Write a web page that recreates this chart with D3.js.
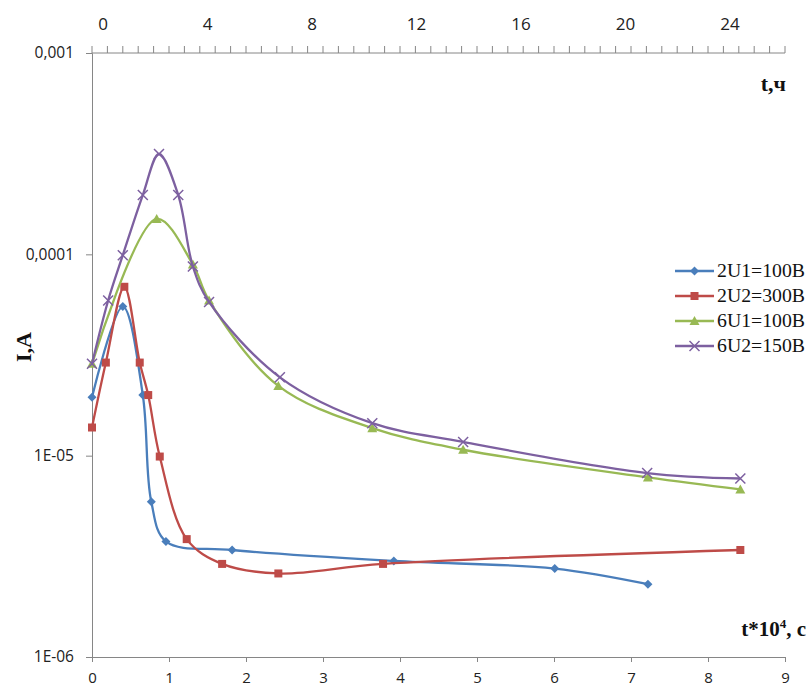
<!DOCTYPE html>
<html><head><meta charset="utf-8">
<script src="https://cdn.jsdelivr.net/npm/d3@7"></script>
<style>body{margin:0;background:#fff}</style>
</head><body>
<svg id="c" width="809" height="688"></svg>
<script>
// ---- data ----
const seriesNames = ["2U1=100B", "2U2=300B", "6U1=100B", "6U2=150B"];
const t_2U1 = [0, 0.4, 0.66, 0.77, 0.96, 1.82, 3.92, 6.01, 7.22];
const I_2U1 = [1.95e-5, 5.5e-5, 2.0e-5, 5.9e-6, 3.75e-6, 3.4e-6, 3.0e-6, 2.75e-6, 2.3e-6];
const t_2U2 = [0, 0.18, 0.42, 0.62, 0.73, 0.88, 1.23, 1.69, 2.42, 3.78, 8.42];
const I_2U2 = [1.38e-5, 2.9e-5, 6.9e-5, 2.9e-5, 2.0e-5, 9.9e-6, 3.85e-6, 2.9e-6, 2.6e-6, 2.9e-6, 3.4e-6];
const t_6U1 = [0, 0.84, 1.31, 1.52, 2.42, 3.64, 4.82, 7.22, 8.42];
const I_6U1 = [2.86e-5, 1.5e-4, 8.9e-5, 5.9e-5, 2.22e-5, 1.37e-5, 1.07e-5, 7.8e-6, 6.8e-6];
const t_6U2 = [0, 0.21, 0.40, 0.66, 0.87, 1.12, 1.31, 1.52, 2.44, 3.64, 4.82, 7.21, 8.42];
const I_6U2 = [2.86e-5, 5.9e-5, 9.9e-5, 1.97e-4, 3.15e-4, 1.97e-4, 8.7e-5, 5.8e-5, 2.45e-5, 1.45e-5, 1.17e-5, 8.2e-6, 7.7e-6];
const xTicks = [0,1,2,3,4,5,6,7,8,9];
const yTicks = [1e-6, 1e-5, 1e-4, 1e-3];
const yTickLabels = ["1E-06", "1E-05", "0,0001", "0,001"];
const topTicks = [0,4,8,12,16,20,24];
const colors = ["#4A7EBB", "#BE4B48", "#98B954", "#7D60A0"];
const markers = ["diamond", "square", "triangle", "cross"];

const svg = d3.select("#c");
const L = 92, R = 785, T = 53, B = 657;
const x = d3.scaleLinear().domain([0, 9]).range([L, R]);
const y = d3.scaleLog().domain([1e-6, 1e-3]).range([B, T]);
const xTop = d3.scaleLinear().domain([0, 24]).range([103, 730]);

const tickFont = "'Open Sans', sans-serif";
const serif = "'Liberation Serif', 'Times New Roman', serif";

// bottom axis
const gB = svg.append("g").attr("transform", `translate(0,${B})`)
  .call(d3.axisBottom(x).tickValues(xTicks).tickSize(5).tickPadding(10).tickFormat(d3.format("d")));
gB.select(".domain").attr("stroke", "#868686");
gB.selectAll(".tick line").attr("stroke", "#868686");
gB.selectAll("text").attr("font-family", tickFont).attr("font-size", 15).attr("fill", "#222");

// left axis
const gL = svg.append("g").attr("transform", `translate(${L},0)`)
  .call(d3.axisLeft(y).tickValues(yTicks).tickSize(6).tickPadding(12)
    .tickFormat((d, i) => yTickLabels[yTicks.indexOf(d)]));
gL.select(".domain").attr("stroke", "#868686");
gL.selectAll(".tick line").attr("stroke", "#868686");
gL.selectAll("text").attr("font-family", tickFont).attr("font-size", 15.5).attr("fill", "#222");

// top axis (hours)
const gT = svg.append("g");
gT.append("line").attr("x1", L).attr("x2", R).attr("y1", T).attr("y2", T).attr("stroke", "#868686");
const minor = d3.scaleLinear().domain([0, 45]).range([L, R]);
gT.selectAll("line.mt").data(d3.range(0, 46)).join("line").attr("class", "mt")
  .attr("x1", d => minor(d)).attr("x2", d => minor(d))
  .attr("y1", T - 7).attr("y2", T).attr("stroke", "#868686");
gT.selectAll("text").data(topTicks).join("text")
  .attr("x", d => xTop(d)).attr("y", 30).attr("text-anchor", "middle")
  .attr("font-family", tickFont).attr("font-size", 17).attr("fill", "#222")
  .text(d => d);

// series
const sx = [t_2U1, t_2U2, t_6U1, t_6U2];
const sy = [I_2U1, I_2U2, I_6U1, I_6U2];
const line = d3.line().x(d => x(d[0])).y(d => y(d[1])).curve(d3.curveCatmullRom.alpha(0.5));

function drawMarker(g, type, cx, cy, color) {
  if (type === "diamond") {
    g.append("path").attr("d", `M${cx},${cy-4.5}L${cx+4.5},${cy}L${cx},${cy+4.5}L${cx-4.5},${cy}Z`).attr("fill", color);
  } else if (type === "square") {
    g.append("rect").attr("x", cx-4).attr("y", cy-4).attr("width", 8).attr("height", 8).attr("fill", color);
  } else if (type === "triangle") {
    g.append("path").attr("d", `M${cx},${cy-5}L${cx+5},${cy+4}L${cx-5},${cy+4}Z`).attr("fill", color);
  } else {
    g.append("path").attr("d", `M${cx-5},${cy-5}L${cx+5},${cy+5}M${cx-5},${cy+5}L${cx+5},${cy-5}`)
      .attr("stroke", color).attr("stroke-width", 1.5);
  }
}

seriesNames.forEach((name, i) => {
  const pts = sx[i].map((t, j) => [t, sy[i][j]]);
  const g = svg.append("g");
  g.append("path").datum(pts).attr("d", line).attr("fill", "none")
    .attr("stroke", colors[i]).attr("stroke-width", 2.3);
  pts.forEach(p => drawMarker(g, markers[i], x(p[0]), y(p[1]), colors[i]));
});

// legend
const legY = [271, 296, 321, 346];
seriesNames.forEach((name, i) => {
  const g = svg.append("g");
  g.append("line").attr("x1", 675).attr("x2", 714).attr("y1", legY[i]).attr("y2", legY[i])
    .attr("stroke", colors[i]).attr("stroke-width", 2.3);
  drawMarker(g, markers[i], 694.5, legY[i], colors[i]);
  g.append("text").attr("x", 717).attr("y", legY[i] + 6).attr("font-family", serif)
    .attr("font-size", 18).attr("fill", "#111").attr("textLength", 88).attr("lengthAdjust", "spacingAndGlyphs").text(name);
});

// axis titles
svg.append("text").attr("transform", "translate(31,347) rotate(-90)").attr("text-anchor", "middle")
  .attr("font-family", serif).attr("font-weight", "bold").attr("font-size", 22).attr("fill", "#111").text("I,A");
svg.append("text").attr("x", 786).attr("y", 91).attr("text-anchor", "end")
  .attr("font-family", serif).attr("font-weight", "bold").attr("font-size", 22).attr("fill", "#111").text("t,ч");
const tt = svg.append("text").attr("x", 806).attr("y", 636).attr("text-anchor", "end")
  .attr("font-family", serif).attr("font-weight", "bold").attr("font-size", 21).attr("fill", "#111");
tt.append("tspan").text("t*10");
tt.append("tspan").attr("dy", -8).attr("font-size", 13).text("4");
tt.append("tspan").attr("dy", 8).text(", c");
</script>
</body></html>
